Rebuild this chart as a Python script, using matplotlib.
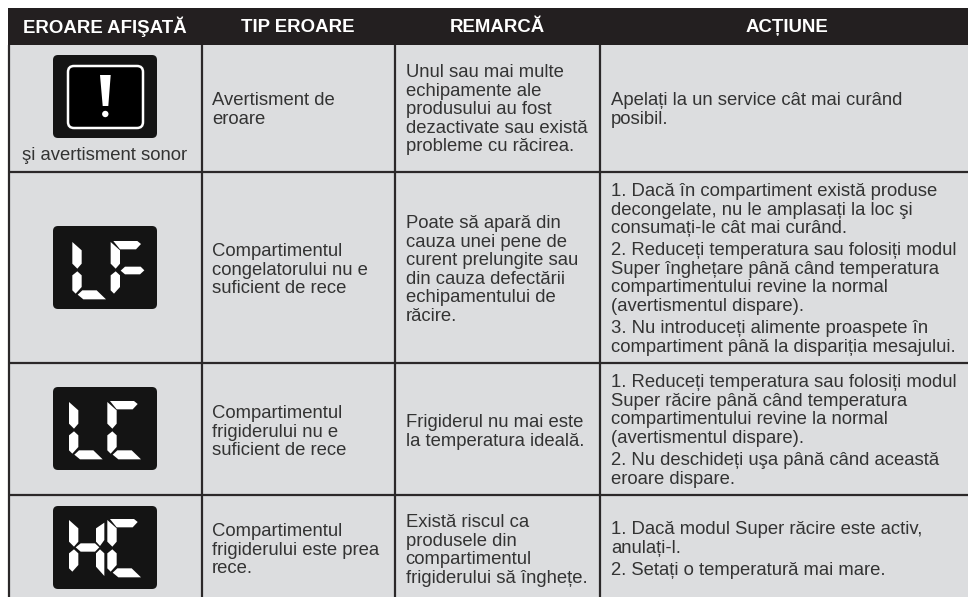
import matplotlib
matplotlib.use("Agg")
import matplotlib.pyplot as plt
from matplotlib.patches import FancyBboxPatch, Polygon, Circle

plt.rcParams['font.family'] = ['Liberation Sans', 'DejaVu Sans']

headers = ['EROARE AFIŞATĂ', 'TIP EROARE', 'REMARCĂ', 'ACȚIUNE']
sub_label = 'şi avertisment sonor'
tip_eroare = [['Avertisment de', 'eroare'],
              ['Compartimentul', 'congelatorului nu e', 'suficient de rece'],
              ['Compartimentul', 'frigiderului nu e', 'suficient de rece'],
              ['Compartimentul', 'frigiderului este prea', 'rece.']]
remarca = [['Unul sau mai multe', 'echipamente ale', 'produsului au fost', 'dezactivate sau există', 'probleme cu răcirea.'],
           ['Poate să apară din', 'cauza unei pene de', 'curent prelungite sau', 'din cauza defectării', 'echipamentului de', 'răcire.'],
           ['Frigiderul nu mai este', 'la temperatura ideală.'],
           ['Există riscul ca', 'produsele din', 'compartimentul', 'frigiderului să înghețe.']]
# each action is a list of paragraphs
actiune = [[['Apelați la un service cât mai curând', 'posibil.']],
           [['1. Dacă în compartiment există produse', 'decongelate, nu le amplasați la loc şi', 'consumați-le cât mai curând.'],
            ['2. Reduceți temperatura sau folosiți modul', 'Super înghețare până când temperatura', 'compartimentului revine la normal', '(avertismentul dispare).'],
            ['3. Nu introduceți alimente proaspete în', 'compartiment până la dispariția mesajului.']],
           [['1. Reduceți temperatura sau folosiți modul', 'Super răcire până când temperatura', 'compartimentului revine la normal', '(avertismentul dispare).'],
            ['2. Nu deschideți uşa până când această', 'eroare dispare.']],
           [['1. Dacă modul Super răcire este activ,', 'anulați-l.'],
            ['2. Setați o temperatură mai mare.']]]
display_codes = ['', 'LF', 'LC', 'HC']

# layout in pixels
header_x = [105, 298, 497, 787]
col_lines = [9, 202, 395, 600]
row_lines = [172, 363, 495]
panel_top = [55, 226, 387, 506]
tip_y = [105, 256, 418, 536]
rem_y = [77, 228, 427, 527]
act_y = [105, 196, 387, 534]
line_h = 18.6
para_gap = 3.5
fs = 13.3
txt = '#333333'

# display segments, zoom units (1/3 px) from the panel corner
seg = {'tl': [(48, 42), (76, 67), (76, 107), (63, 122), (48, 107)],
       'bl': [(63, 130), (76, 142), (76, 177), (58, 197), (48, 187), (48, 142)],
       'bot': [(78, 187), (121, 187), (149, 214), (81, 214), (64, 200)],
       'top': [(56, 39), (128, 39), (139, 48), (124, 64), (76, 64)],
       'mid': [(78, 128), (91, 116), (138, 116), (149, 127), (136, 139), (91, 139)],
       'hmid': [(68, 124), (83, 112), (126, 112), (139, 124), (126, 137), (83, 137)],
       'tr': [(154, 50), (154, 102), (141, 120), (129, 107), (129, 67)],
       'br': [(141, 130), (154, 142), (154, 210), (129, 182), (129, 142)]}
letters = {'L': ['tl', 'bl', 'bot'],
           'F': ['tl', 'bl', 'top', 'mid'],
           'C': ['tl', 'bl', 'top', 'bot'],
           'H': ['tl', 'bl', 'hmid', 'tr', 'br']}
digit_dx = [0, 10, 0, 0]
digit_dy = [0, 6, 3, 0]

fig = plt.figure(figsize=(9.68, 5.97), dpi=100)
ax = fig.add_axes([0, 0, 1, 1])
ax.set_xlim(0, 968)
ax.set_ylim(597, 0)
ax.axis('off')

ax.fill_between([9, 968], 45, 597, color='#dcdddf', lw=0)
ax.fill_between([8, 968], 8, 45, color='#231f20', lw=0)

for x in col_lines:
    ax.plot([x, x], [45, 597], color='#2b2829', lw=1.6, solid_capstyle='butt')
for y in row_lines:
    ax.plot([9, 968], [y, y], color='#2b2829', lw=1.6, solid_capstyle='butt')

for i in range(4):
    ax.text(header_x[i], 27, headers[i], color='white', fontsize=13.4, fontweight='bold', ha='center', va='center')


def draw_panel(top):
    ax.add_patch(FancyBboxPatch((53, top), 104, 83, boxstyle='round,pad=0,rounding_size=5', fc='#141414', ec='none'))


def draw_letter(ch, top, dx, dy):
    for s in letters[ch]:
        pts = [(53 + (px + dx) / 3, top + (py + dy) / 3) for px, py in seg[s]]
        ax.add_patch(Polygon(pts, fc='white', ec='none'))


for i in range(4):
    draw_panel(panel_top[i])
    if display_codes[i]:
        draw_letter(display_codes[i][0], panel_top[i], digit_dx[i], digit_dy[i])
        draw_letter(display_codes[i][1], panel_top[i], digit_dx[i] + 115, digit_dy[i])

# warning icon
ax.add_patch(FancyBboxPatch((68, 66), 75, 62, boxstyle='round,pad=0,rounding_size=6', fc='#000000', ec='white', lw=1.8))
ax.add_patch(Polygon([(100, 75), (110.7, 75), (108.3, 106), (102.7, 106)], fc='white', ec='none'))
ax.add_patch(Circle((105.3, 114), 3.2, fc='white', ec='none'))
ax.text(105, 160, sub_label, color=txt, fontsize=fs, ha='center', va='baseline')


def draw_lines(x, y, lines):
    for line in lines:
        ax.text(x, y, line, color=txt, fontsize=fs, va='baseline')
        y += line_h
    return y


for i in range(4):
    draw_lines(212, tip_y[i], tip_eroare[i])
    draw_lines(405.5, rem_y[i], remarca[i])
    y = act_y[i]
    for para in actiune[i]:
        y = draw_lines(611, y, para) + para_gap

fig.savefig('out.png', dpi=100)
